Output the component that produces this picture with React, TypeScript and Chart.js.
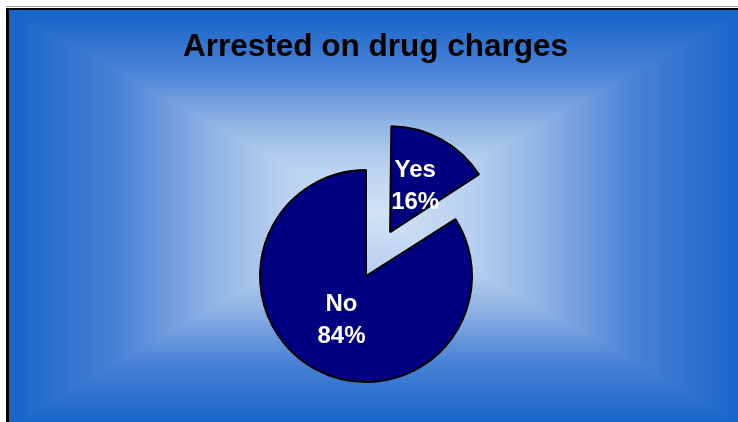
import React, { useEffect, useRef } from "react";
import { Chart, registerables } from "chart.js";

Chart.register(...registerables);

const TITLE = "Arrested on drug charges";
const CATEGORIES = ["Yes", "No"];
const VALUES = [16, 84];
const PERCENT_LABELS = ["16%", "84%"];
const EXPLODE = [200, 0];

const STOPS: [number, string][] = [
  [0, "#1564c8"],
  [0.3, "#4a82d6"],
  [0.55, "#8fb3e4"],
  [0.75, "#b9d1ef"],
  [1, "#d0e3f6"],
];

const backgroundPlugin = {
  id: "frameBackground",
  beforeDraw(chart: any) {
    const ctx = chart.ctx as CanvasRenderingContext2D;
    const W = chart.width;
    const H = chart.height;
    ctx.save();
    ctx.fillStyle = "#ffffff";
    ctx.fillRect(0, 0, W, H);
    const x0 = 9, y0 = 10, x1 = 745, y1 = 425;
    const cx = 376, cy = 215;
    ctx.beginPath();
    ctx.rect(x0, y0, W - x0, H - y0);
    ctx.clip();
    const mk = (ax: number, ay: number, bx: number, by: number) => {
      const g = ctx.createLinearGradient(ax, ay, bx, by);
      STOPS.forEach(([p, c]) => g.addColorStop(p, c));
      return g;
    };
    // vertical halves
    ctx.fillStyle = mk(0, y0, 0, cy);
    ctx.fillRect(x0, y0, x1 - x0, cy - y0 + 1);
    ctx.fillStyle = mk(0, y1, 0, cy);
    ctx.fillRect(x0, cy, x1 - x0, y1 - cy);
    // left / right triangles
    const tri = (pts: number[][], g: CanvasGradient) => {
      ctx.beginPath();
      ctx.moveTo(pts[0][0], pts[0][1]);
      ctx.lineTo(pts[1][0], pts[1][1]);
      ctx.lineTo(pts[2][0], pts[2][1]);
      ctx.closePath();
      ctx.fillStyle = g;
      ctx.fill();
    };
    tri([[x0, y0], [x0, y1], [cx, cy]], mk(x0, 0, cx, 0));
    tri([[x1, y0], [x1, y1], [cx, cy]], mk(x1, 0, cx, 0));
    ctx.restore();

    ctx.save();
    ctx.fillStyle = "#a0a0a0";
    ctx.fillRect(6, 6, W - 6, 1);
    ctx.fillStyle = "#000000";
    ctx.fillRect(6, 8, W - 6, 2);
    ctx.fillRect(6, 8, 3, H - 8);
    ctx.restore();

    ctx.save();
    ctx.fillStyle = "#000000";
    ctx.font = "bold 31.5px 'Liberation Sans', Arial, sans-serif";
    ctx.textAlign = "center";
    ctx.textBaseline = "alphabetic";
    ctx.fillText(TITLE, 375.5, 56);
    ctx.restore();
  },
};

const explodeFixPlugin = {
  id: "explodeFix",
  afterDatasetsUpdate(chart: any) {
    const meta = chart.getDatasetMeta(0);
    meta.data.forEach((arc: any) => {
      const off = (arc.options && arc.options.offset) || 0;
      if (off > 0) {
        const circ = arc.endAngle - arc.startAngle;
        const fix = 1 - Math.sin(Math.min(Math.PI, circ));
        arc.outerRadius = arc.outerRadius - (off / 4) * fix;
      }
    });
  },
};

const labelPlugin = {
  id: "sliceLabels",
  afterDatasetsDraw(chart: any) {
    const ctx = chart.ctx as CanvasRenderingContext2D;
    const meta = chart.getDatasetMeta(0);
    ctx.save();
    ctx.fillStyle = "#ffffff";
    ctx.font = "bold 24px 'Liberation Sans', Arial, sans-serif";
    ctx.textAlign = "center";
    ctx.textBaseline = "middle";
    meta.data.forEach((arc: any, i: number) => {
      const { x, y, startAngle, endAngle, outerRadius } = arc.getProps(
        ["x", "y", "startAngle", "endAngle", "outerRadius"],
        true
      );
      const offRaw = (arc.options && arc.options.offset) || 0;
      const off = offRaw / 4;
      const mid = (startAngle + endAngle) / 2;
      const d = off + outerRadius * (offRaw > 0 ? 0.53 : 0.48);
      const lx = x + Math.cos(mid) * d;
      const ly = y + Math.sin(mid) * d;
      ctx.fillText(CATEGORIES[i], lx, ly - 16);
      ctx.fillText(PERCENT_LABELS[i], lx, ly + 16);
    });
    ctx.restore();
  },
};

export default function App() {
  const ref = useRef<HTMLCanvasElement | null>(null);
  useEffect(() => {
    if (!ref.current) return;
    const chart = new Chart(ref.current, {
      type: "pie",
      data: {
        labels: CATEGORIES,
        datasets: [
          {
            data: VALUES,
            backgroundColor: "#000080",
            borderColor: "#000000",
            borderWidth: 2,
            offset: EXPLODE,
            radius: 106,
          } as any,
        ],
      },
      options: {
        responsive: false,
        animation: false,
        events: [],
        layout: { padding: { top: 130, bottom: 0, left: 0, right: 6 } },
        plugins: {
          legend: { display: false },
          title: { display: false },
          tooltip: { enabled: false },
        },
      },
      plugins: [backgroundPlugin, explodeFixPlugin, labelPlugin],
    });
    return () => chart.destroy();
  }, []);
  return (
    <div style={{ position: "absolute", left: 0, top: 0, width: 738, height: 422 }}>
      <canvas ref={ref} width={738} height={422} style={{ display: "block" }} />
    </div>
  );
}
